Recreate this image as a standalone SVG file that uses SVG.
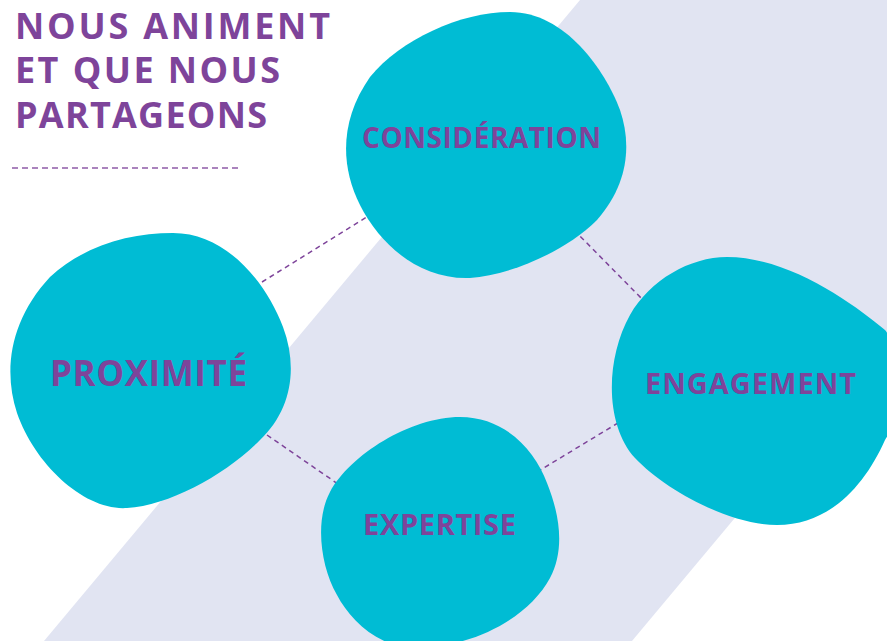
<svg xmlns="http://www.w3.org/2000/svg" width="887" height="641" viewBox="0 0 887 641">
<style>
.blob{fill:#00BCD4}
.lbl{font-family:"Open Sans","Liberation Sans",sans-serif;font-weight:700;fill:#7E449A;text-anchor:middle}
.title{font-family:"Open Sans","Liberation Sans",sans-serif;font-weight:700;font-size:36px;fill:#7E449A}
.conn{stroke:#7E449A;stroke-width:1.5;stroke-dasharray:5 4;fill:none}
</style>
<rect width="887" height="641" fill="#FFFFFF"/>
<polygon points="580,0 887,0 887,336 632,641 44,641" fill="#E1E4F2"/>
<g id="title">
<text class="title" x="15" y="39" textLength="315" lengthAdjust="spacing">NOUS ANIMENT</text>
<text class="title" x="15" y="83" textLength="265" lengthAdjust="spacing">ET QUE NOUS</text>
<text class="title" x="15" y="128" textLength="252" lengthAdjust="spacing">PARTAGEONS</text>
<line x1="12" y1="168" x2="238" y2="168" stroke="#8E5BA8" stroke-width="1.5" stroke-dasharray="6 4"/>
</g>
<g id="connectors">
<line class="conn" x1="262" y1="282" x2="370" y2="215"/>
<line class="conn" x1="574" y1="230" x2="646" y2="303"/>
<line class="conn" x1="267" y1="435" x2="338" y2="484"/>
<line class="conn" x1="537" y1="472" x2="618" y2="423"/>
</g>
<g id="node-consideration">
<path class="blob" d="M 510 12 C 565 12, 605 70, 620 110 C 632 145, 628 185, 597 220 C 565 252, 510 275, 470 278 C 420 280, 380 245, 360 205 C 340 165, 340 120, 370 77 C 400 40, 460 12, 510 12 Z"/>
<text class="lbl" x="481.5" y="148" font-size="28" textLength="239" lengthAdjust="spacing">CONSIDÉRATION</text>
</g>
<g id="node-proximite">
<path class="blob" d="M 173 233 C 225 233, 265 280, 283 327 C 298 367, 292 410, 260 440 C 225 475, 170 505, 127 508 C 85 511, 35 465, 17 413 C 3 370, 10 320, 50 277 C 85 245, 130 233, 173 233 Z"/>
<text class="lbl" x="148.5" y="386" font-size="35" textLength="197" lengthAdjust="spacing">PROXIMITÉ</text>
</g>
<g id="node-engagement">
<path class="blob" d="M 727 257 C 790 257, 855 305, 885 330 C 905 355, 905 410, 885 440 C 865 485, 830 525, 777 525 C 730 525, 665 490, 635 458 C 605 425, 605 360, 630 315 C 650 280, 690 257, 727 257 Z"/>
<text class="lbl" x="750.5" y="394" font-size="29" textLength="211" lengthAdjust="spacing">ENGAGEMENT</text>
</g>
<g id="node-expertise">
<path class="blob" d="M 460 417 C 505 417, 535 450, 547 483 C 560 515, 565 550, 550 578 C 530 615, 480 645, 420 648 C 380 650, 350 620, 337 595 C 320 565, 315 520, 330 492 C 350 455, 410 417, 460 417 Z"/>
<text class="lbl" x="439.5" y="535" font-size="29" textLength="153" lengthAdjust="spacing">EXPERTISE</text>
</g>
</svg>
